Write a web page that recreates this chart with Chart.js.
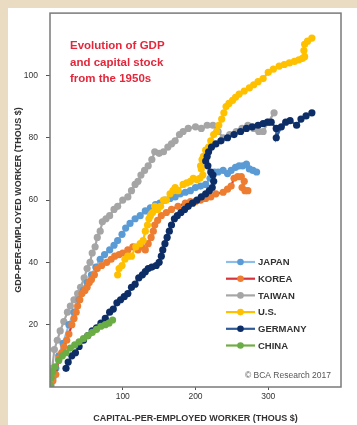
<!DOCTYPE html>
<html>
<head>
<meta charset="utf-8">
<script src="https://cdn.jsdelivr.net/npm/chart.js@4.4.1/dist/chart.umd.min.js"></script>
<style>
  html, body { margin: 0; padding: 0; background: #e9dcc3; }
  #wrap { width: 357px; height: 425px; }
</style>
</head>
<body>
<div id="wrap"><canvas id="chart" width="357" height="425"></canvas></div>
<script>
// capital per employed worker (thous $) vs GDP per employed worker (thous $)
const countries = ['JAPAN', 'KOREA', 'TAIWAN', 'U.S.', 'GERMANY', 'CHINA'];

const japanX = [1, 4, 8, 12, 18, 26, 33, 40, 46, 51, 57, 63, 69, 75, 82, 88, 93, 99, 104, 110, 117, 124, 131, 138, 145, 151, 158, 165, 172, 179, 186, 193, 200, 207, 214, 220, 226, 231, 238, 244, 249, 255, 260, 265, 270, 274, 279, 284];
const japanY = [1, 3, 6, 10, 14, 20, 24, 28, 31, 33.5, 36, 38.5, 41, 42.5, 44, 45.5, 47, 49, 51, 52.5, 54, 55, 56.5, 57.5, 58.5, 59, 60, 60.5, 61, 62, 62.5, 63, 64, 64.5, 65, 67, 69, 69, 69.5, 68.5, 69.5, 70.5, 71, 71, 71.5, 70, 69.5, 69];

const koreaX = [1, 4, 8, 12, 16, 19, 23, 26, 30, 33, 36, 38, 41, 44, 48, 51, 54, 57, 61, 65, 71, 78, 84, 89, 95, 100, 107, 114, 121, 126, 131, 135, 139, 142, 144, 148, 153, 160, 167, 176, 186, 193, 200, 207, 214, 221, 228, 238, 244, 249, 253, 258, 263, 267, 264, 268, 272];
const koreaY = [0.3, 2, 4, 9, 11, 13, 15, 17, 20, 22, 24, 26, 28, 30, 31, 32, 33.5, 34.5, 36, 38, 39, 40, 41, 42, 42.5, 43, 44, 45, 44, 45, 44, 46, 48, 50, 52, 53.5, 55, 56, 57, 58, 59, 59.5, 59.5, 60, 60.5, 61, 62, 62.5, 63.5, 64.5, 67, 67.5, 67.5, 66, 64, 63, 63];

const taiwanX = [1, 3, 6, 10, 14, 19, 24, 28, 33, 38, 42, 47, 51, 55, 58, 62, 65, 69, 72, 77, 82, 88, 93, 100, 107, 112, 117, 121, 125, 130, 135, 140, 144, 150, 156, 162, 167, 172, 178, 183, 190, 200, 208, 216, 224, 231, 238, 247, 256, 264, 272, 280, 287, 293, 300, 308];
const taiwanY = [0.6, 6, 12, 15, 18, 21, 24, 26, 28, 30, 32, 35, 38, 40, 43, 45, 48, 50, 53, 54, 55, 57, 58, 60, 61, 63, 65, 66, 68, 69.5, 71, 73, 75.5, 75, 75.5, 77, 78, 79, 81, 82, 83, 83.5, 83, 84, 84, 82, 80, 81, 82, 83, 84, 83, 82, 82, 85, 88];

const usX = [93, 95, 99, 103, 107, 112, 118, 124, 128, 131, 134, 136, 138, 141, 144, 148, 152, 156, 160, 165, 169, 172, 176, 183, 188, 193, 197, 202, 206, 210, 208, 207, 209, 211, 214, 218, 221, 225, 229, 232, 236, 239, 242, 246, 251, 255, 260, 267, 274, 280, 286, 293, 300, 307, 315, 322, 329, 336, 342, 347, 350, 349, 350, 354, 360];
const usY = [36, 38, 39, 41, 42, 42, 45, 46, 47, 50, 52, 54, 55, 56, 58, 57, 58, 60, 60, 62, 63, 64, 63, 65, 65.5, 66, 67, 66.5, 67, 68, 70, 71, 73, 74, 76, 77, 79, 81, 82, 84, 86, 88, 90, 91, 92, 93, 94, 95, 96, 97, 98, 99, 101, 102, 103, 103.5, 104, 104.5, 105, 105.5, 106, 108, 110, 111, 112];

const germanyX = [22, 25, 30, 35, 40, 46, 52, 58, 64, 70, 76, 82, 87, 92, 97, 102, 107, 112, 117, 122, 127, 131, 135, 140, 146, 150, 153, 155, 158, 161, 164, 167, 171, 175, 180, 185, 190, 196, 202, 208, 214, 219, 223, 225, 224, 221, 217, 214, 216, 218, 222, 228, 235, 244, 253, 262, 270, 278, 286, 293, 299, 304, 311, 311, 318, 324, 330, 339, 345, 352, 360];
const germanyY = [6, 8, 10, 11, 13, 15, 16.5, 18, 19, 20.5, 22, 24, 25, 27, 28, 29, 30, 32, 33, 35, 36, 37, 38, 38.5, 39, 40, 42, 44, 46, 48, 50, 52, 54, 55, 56, 57, 58, 59, 60, 61, 62, 63, 64, 66, 68, 69, 71, 72.5, 74, 75.5, 77, 78, 79, 80, 81, 82, 83, 83.5, 84, 84.5, 85, 85, 83, 80, 83.5, 85, 85.5, 84, 86, 87, 88];

const chinaX = [0, 1.5, 4, 7, 12, 17, 22, 28, 34, 40, 46, 52, 58, 64, 70, 76, 81, 86];
const chinaY = [0.6, 3, 5, 6.5, 8.5, 10, 11, 12.5, 13.5, 14.5, 15.5, 16.5, 17.5, 18.5, 19.5, 20, 20.5, 21.5];

const xTicks = [100, 200, 300];
const yTicks = [20, 40, 60, 80, 100];

function pts(xs, ys) {
  return xs.map((x, i) => ({ x: x, y: ys[i] }));
}

function series(label, xs, ys, line, dot, order) {
  return {
    label: label,
    data: pts(xs, ys),
    showLine: true,
    borderColor: line,
    borderWidth: 2.2,
    backgroundColor: dot,
    pointBackgroundColor: dot,
    pointBorderColor: dot,
    pointRadius: 3.6,
    pointBorderWidth: 0,
    order: order
  };
}

const datasets = [
  series(countries[0], japanX, japanY, '#8dbde8', '#5b9bd5', 5),
  series(countries[1], koreaX, koreaY, '#d8323c', '#ed7d31', 4),
  series(countries[2], taiwanX, taiwanY, '#a6a6a6', '#a5a5a5', 6),
  series(countries[3], usX, usY, '#ffc000', '#ffc000', 3),
  series(countries[4], germanyX, germanyY, '#2f5c98', '#0c2d66', 2),
  series(countries[5], chinaX, chinaY, '#70ad47', '#6aad45', 1)
];

const font = "'Liberation Sans', Arial, sans-serif";

// beige page, white panel, frame, red note, legend, credit
const decor = {
  id: 'decor',
  beforeDraw(chart) {
    const c = chart.ctx;
    c.save();
    c.fillStyle = '#e9dcc3';
    c.fillRect(0, 0, chart.width, chart.height);
    c.fillStyle = '#ffffff';
    c.fillRect(8, 8, chart.width - 8, chart.height - 8);
    c.restore();
  },
  afterDatasetsDraw(chart) {
    const c = chart.ctx;
    const a = chart.chartArea;
    c.save();
    c.strokeStyle = '#7a7a7a';
    c.lineWidth = 1.5;
    c.strokeRect(a.left, a.top, a.right - a.left, a.bottom - a.top);

    c.fillStyle = '#e3283c';
    c.font = 'bold 11.5px ' + font;
    c.textBaseline = 'middle';
    c.textAlign = 'left';
    ['Evolution of GDP', 'and capital stock', 'from the 1950s'].forEach((t, i) => {
      c.fillText(t, 70, 46 + i * 16.5);
    });

    chart.data.datasets.forEach((ds, i) => {
      const y = 262 + i * 16.7;
      c.strokeStyle = ds.borderColor;
      c.lineWidth = 2.2;
      c.beginPath();
      c.moveTo(226, y);
      c.lineTo(255, y);
      c.stroke();
      c.fillStyle = ds.pointBackgroundColor;
      c.beginPath();
      c.arc(240.5, y, 3.3, 0, Math.PI * 2);
      c.fill();
      c.fillStyle = '#333333';
      c.font = 'bold 9.5px ' + font;
      c.fillText(ds.label, 258, y + 0.5);
    });

    c.fillStyle = '#555555';
    c.font = '8.5px ' + font;
    c.textAlign = 'right';
    c.fillText('\u00A9 BCA Research 2017', 331, 376);
    c.restore();
  }
};

const ctx = document.getElementById('chart').getContext('2d');
const chart = new Chart(ctx, {
  type: 'scatter',
  data: { datasets: datasets },
  options: {
    responsive: false,
    animation: false,
    devicePixelRatio: 1,
    layout: { padding: { top: 13, right: 16, left: 0, bottom: 0 } },
    plugins: {
      legend: { display: false },
      tooltip: { enabled: false }
    },
    scales: {
      x: {
        type: 'linear',
        min: 0,
        max: 400,
        afterFit(scale) { scale.height = 38; },
        afterBuildTicks(scale) { scale.ticks = xTicks.map(v => ({ value: v })); },
        border: { display: false },
        grid: { drawOnChartArea: false, drawTicks: true, tickLength: 3, color: '#555555' },
        ticks: {
          color: '#333333',
          font: { family: font, size: 8.5 },
          padding: 2,
          callback: v => String(v)
        },
        title: {
          display: true,
          text: 'CAPITAL-PER-EMPLOYED WORKER (THOUS $)',
          color: '#333333',
          font: { family: font, size: 9, weight: 'bold' },
          padding: { top: 0, bottom: 1 }
        }
      },
      y: {
        type: 'linear',
        min: 0,
        max: 120,
        afterFit(scale) { scale.width = 50; },
        afterBuildTicks(scale) { scale.ticks = yTicks.map(v => ({ value: v })); },
        border: { display: false },
        grid: { drawOnChartArea: false, drawTicks: true, tickLength: 4, color: '#555555' },
        ticks: {
          color: '#333333',
          font: { family: font, size: 8.5 },
          padding: 8,
          callback: v => String(v)
        },
        title: {
          display: true,
          text: 'GDP-PER-EMPLOYED WORKER (THOUS $)',
          color: '#333333',
          font: { family: font, size: 9, weight: 'bold' },
          padding: { top: 13, bottom: 0 }
        }
      }
    }
  },
  plugins: [decor]
});
</script>
</body>
</html>
